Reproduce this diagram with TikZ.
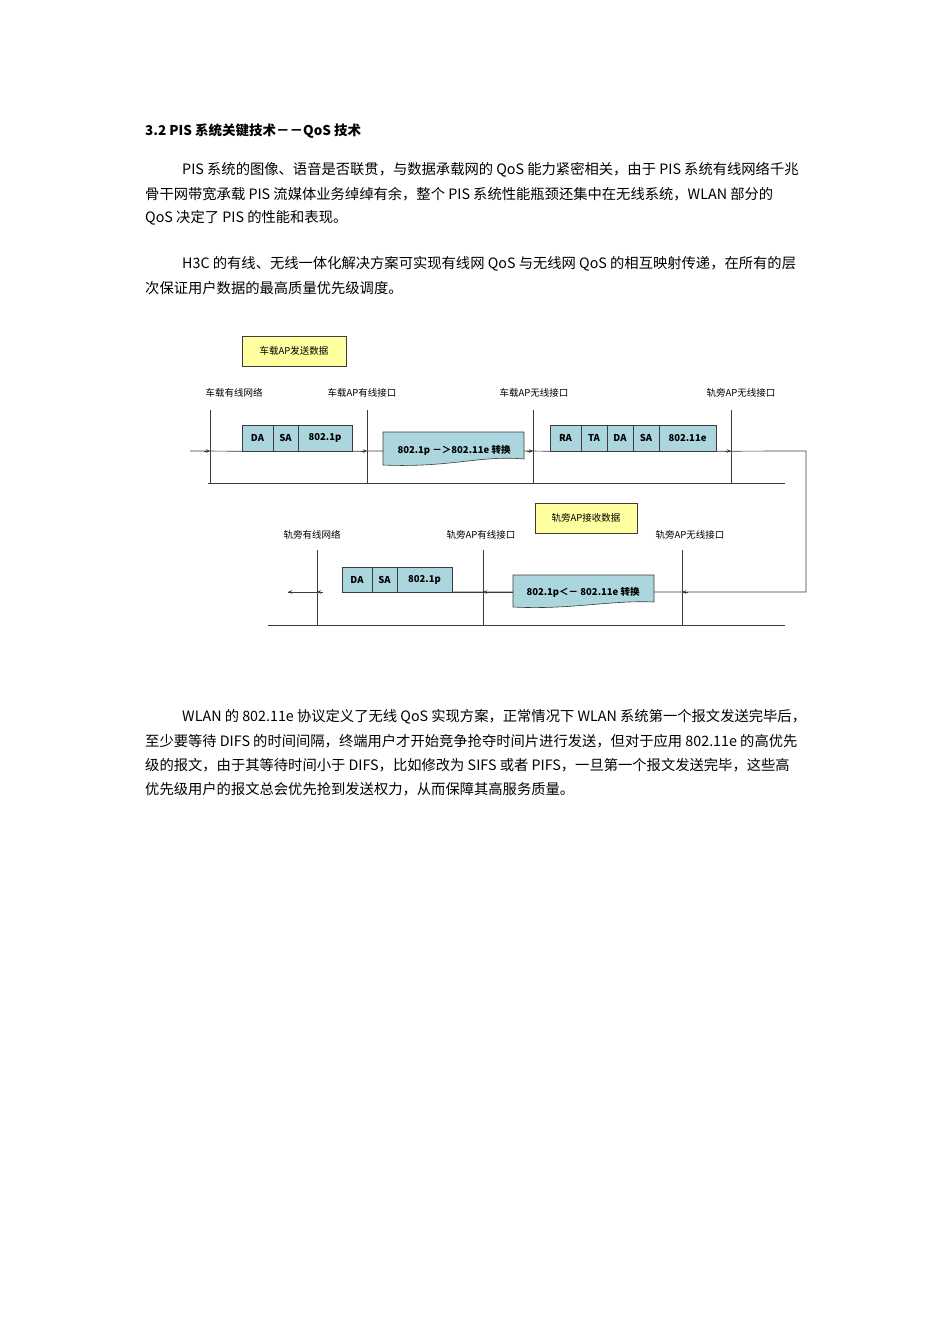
\documentclass[tikz,border=0pt]{standalone}
\usepackage{fontspec}
\setmainfont{Noto Sans CJK SC}
\usetikzlibrary{arrows.meta}
\definecolor{pkt}{RGB}{172,214,222}
\definecolor{yel}{RGB}{255,255,160}
\definecolor{ln}{RGB}{60,60,60}
\begin{document}
\begin{tikzpicture}[x=1pt,y=-1pt,
  para/.style={anchor=west,inner sep=0pt,font=\fontsize{14.3}{16}\selectfont},
  lab/.style={inner sep=0pt,font=\fontsize{9.5}{11}\selectfont},
  cell/.style={draw=ln,fill=pkt,inner sep=0pt,font=\bfseries\fontsize{9.5}{11}\selectfont},
  ybox/.style={draw=ln,fill=yel,inner sep=0pt,font=\fontsize{9.5}{11}\selectfont},
  wire/.style={draw=ln,line width=0.7pt},
  tip/.style={-{Stealth[length=4pt,width=3.5pt]},draw=ln,line width=0.7pt}]
\useasboundingbox (0,0) rectangle (950,1344);
\fill[white] (0,0) rectangle (950,1344);
% text
\node[para,font=\bfseries\fontsize{13.5}{15}\selectfont] (h) at (145,131) {3.2 PIS 系统关键技术－－QoS 技术};
\node[para] (p1) at (182,170) {PIS 系统的图像、语音是否联贯，与数据承载网的 QoS 能力紧密相关，由于 PIS 系统有线网络千兆};
\node[para] (p2) at (145,194) {骨干网带宽承载 PIS 流媒体业务绰绰有余，整个 PIS 系统性能瓶颈还集中在无线系统，WLAN 部分的};
\node[para] (p3) at (145,218) {QoS 决定了 PIS 的性能和表现。};
\node[para] (p4) at (182,264) {H3C 的有线、无线一体化解决方案可实现有线网 QoS 与无线网 QoS 的相互映射传递，在所有的层};
\node[para] (p5) at (145,288) {次保证用户数据的最高质量优先级调度。};
\node[para] (p6) at (182,717) {WLAN 的 802.11e 协议定义了无线 QoS 实现方案，正常情况下 WLAN 系统第一个报文发送完毕后，};
\node[para] (p7) at (145,741) {至少要等待 DIFS 的时间间隔，终端用户才开始竞争抢夺时间片进行发送，但对于应用 802.11e 的高优先};
\node[para] (p8) at (145,765) {级的报文，由于其等待时间小于 DIFS，比如修改为 SIFS 或者 PIFS，一旦第一个报文发送完毕，这些高};
\node[para] (p9) at (145,789) {优先级用户的报文总会优先抢到发送权力，从而保障其高服务质量。};
% ===== top diagram
\node[ybox,minimum width=104pt,minimum height=30pt] (ys) at (294,351) {车载AP发送数据};
\node[lab] (l1) at (234,393) {车载有线网络};
\node[lab] (l2) at (362,393) {车载AP有线接口};
\node[lab] (l3) at (534,393) {车载AP无线接口};
\node[lab] (l4) at (741,393) {轨旁AP无线接口};
\foreach \x in {210,367,533,731} \draw[ln,line width=0.6pt] (\x,410) -- (\x,483);
\draw[ln,line width=0.7pt] (208,483) -- (785,483);
% packets
\node[cell,minimum width=31pt,minimum height=26pt] (c1) at (257.5,438) {DA};
\node[cell,minimum width=25pt,minimum height=26pt] (c2) at (285.5,438) {SA};
\node[cell,minimum width=54pt,minimum height=26pt] (c3) at (325,438) {802.1p};
\node[cell,minimum width=31pt,minimum height=26pt] (d1) at (565.5,438) {RA};
\node[cell,minimum width=26pt,minimum height=26pt] (d2) at (594,438) {TA};
\node[cell,minimum width=26pt,minimum height=26pt] (d3) at (620,438) {DA};
\node[cell,minimum width=26pt,minimum height=26pt] (d4) at (646,438) {SA};
\node[cell,minimum width=57pt,minimum height=26pt] (d5) at (687.5,438) {802.11e};
% transform box
\draw[ln,fill=pkt,line width=0.6pt] (383,432) -- (524,432) -- (524,459) .. controls (480,455) and (450,468) .. (383,465) -- cycle;
\node[inner sep=0pt,font=\bfseries\fontsize{9.5}{11}\selectfont] (t1) at (454,450) {802.1p －＞802.11e 转换};
% main wire
\coordinate (a0) at (190,451);
\coordinate (corner1) at (806,451);
\coordinate (corner2) at (806,592);
\coordinate (aend) at (288,592);
\draw[wire] (a0) -- (c1.south west);
\draw[wire] (c3.south east) -- (383,451);
\draw[wire] (524,451) -- (d1.south west);
\draw[wire] (d5.south east) -- (corner1) -- (corner2) -- (342,592);
\draw[wire] (452,592) -- (513,592);
\draw[wire] (317,592) -- (aend);
\foreach \x in {210,367,533,731} \draw[tip] (\x-6,451) -- (\x,451);
% ===== bottom diagram
\node[ybox,minimum width=102pt,minimum height=30pt] (yr) at (586,518) {轨旁AP接收数据};
\node[lab] (m1) at (312,535) {轨旁有线网络};
\node[lab] (m2) at (481,535) {轨旁AP有线接口};
\node[lab] (m3) at (690,535) {轨旁AP无线接口};
\foreach \x in {317,483,682} \draw[ln,line width=0.6pt] (\x,550) -- (\x,625);
\draw[ln,line width=0.7pt] (268,625) -- (785,625);
\node[cell,minimum width=30pt,minimum height=25pt] (e1) at (357,579.5) {DA};
\node[cell,minimum width=25pt,minimum height=25pt] (e2) at (384.5,579.5) {SA};
\node[cell,minimum width=55pt,minimum height=25pt] (e3) at (424.5,579.5) {802.1p};
\draw[ln,fill=pkt,line width=0.6pt] (513,575) -- (654,575) -- (654,602) .. controls (610,600) and (570,610) .. (513,607) -- cycle;
\node[inner sep=0pt,font=\bfseries\fontsize{9.5}{11}\selectfont] (t2) at (583,592) {802.1p＜－ 802.11e 转换};
\foreach \x in {682,483,317,288} \draw[tip] (\x+6,592) -- (\x,592);
\end{tikzpicture}
\end{document}
